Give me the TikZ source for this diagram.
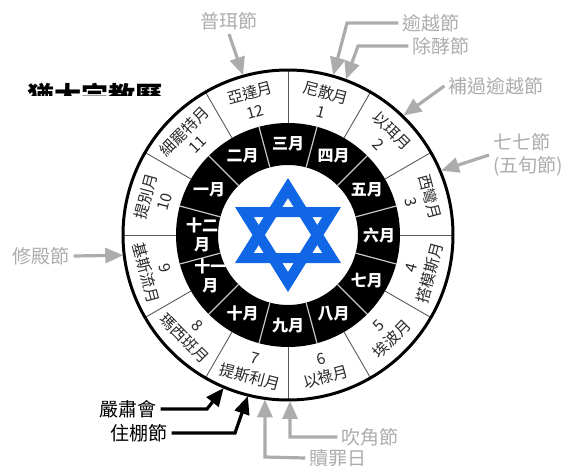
\documentclass[tikz,border=0pt]{standalone}
\usepackage{fontspec}
\setmainfont{Noto Sans CJK TC}
\usetikzlibrary{arrows.meta,calc}
\definecolor{lg}{RGB}{172,172,172}
\definecolor{starblue}{RGB}{16,102,228}
\definecolor{mtext}{RGB}{40,40,40}
\begin{document}
\begin{tikzpicture}[x=1pt,y=1pt,
  lbl/.style={text=lg,font=\fontsize{19}{23}\selectfont,inner sep=4pt},
  blbl/.style={text=black,font=\fontsize{19}{23}\selectfont,inner sep=4pt},
  garrow/.style={draw=lg,line width=3.2pt,-{Triangle[length=18pt,width=15pt]}},
  karrow/.style={draw=black,line width=3.2pt,-{Triangle[length=18pt,width=15pt]}},
  mname/.style={font=\fontsize{15.5}{19}\selectfont,text=mtext,inner sep=0pt,align=center},
  inm/.style={font=\bfseries\fontsize{16}{19}\selectfont,text=white,inner sep=0pt,align=center},
]
\useasboundingbox (0,0) rectangle (566,-466);

% clipped title
\begin{scope}
  \clip (0,-60) rectangle (220,-95);
  \node[anchor=base west,inner sep=0pt,font=\bfseries\fontsize{27}{28}\selectfont] (title) at (27,-106) {猶太宗教曆};
\end{scope}

% wheel
\begin{scope}[shift={(288,-235)}]
  \fill[black,even odd rule] (0,0) circle (112) (0,0) circle (70);
  \foreach \a in {0,30,...,330} \draw[black!65,line width=0.9pt] (\a:112) -- (\a:165);
  \foreach \a in {15,45,...,345} \draw[white!78!black,line width=1.2pt] (\a:70) -- (\a:112);
  \draw[line width=3pt] (0,0) circle (165);

  % outer ring months: name outward, number inward
  \foreach \a/\nm/\n/\r [count=\i] in {75/尼散月/1/-15, 45/以珥月/2/-45, 15/西彎月/3/-75,
      165/提別月/10/75, 135/細罷特月/11/45, 105/亞達月/12/15}
    \node[mname,rotate=\r] (mo\i) at (\a:138) {\nm\\\n};
  \foreach \a/\nm/\n/\r [count=\i] in {-15/搭模斯月/4/75, -45/埃波月/5/45, -75/以祿月/6/15,
      -105/提斯利月/7/-15, -135/瑪西班月/8/-45, -165/基斯流月/9/-75}
    \node[mname,rotate=\r] (mb\i) at (\a:138) {\n\\\nm};

  % inner ring
  \foreach \a/\t [count=\i] in {90/三月, 60/四月, 30/五月, 0/六月, -30/七月, -60/八月,
      -90/九月, -120/十月, 150/一月, 120/二月}
    \node[inm] (im\i) at (\a:91) {\t};
  \node[inm] (im11) at (-152:88) {十一\\月};
  \node[inm] (im12) at (180:86) {十二\\月};

  % star of David
  \fill[starblue,even odd rule] (0,57) -- (-53,-28) -- (53,-28) -- cycle
        (0,37) -- (-34.3,-18) -- (34.3,-18) -- cycle;
  \fill[starblue,even odd rule] (0,-57) -- (-53,28) -- (53,28) -- cycle
        (0,-37) -- (-34.3,18) -- (34.3,18) -- cycle;

  % arrow tips on the rim
  \coordinate (tPurim) at (105.7:166);
  \coordinate (tPesach) at (74.2:166);
  \coordinate (tMatzot) at (69.6:166);
  \coordinate (tSheni) at (46:166);
  \coordinate (tShavuot) at (22.8:166);
  \coordinate (tHanukkah) at (187:166);
  \coordinate (tShemini) at (247.2:166);
  \coordinate (tSukkot) at (256:166);
  \coordinate (tKippur) at (262:166);
  \coordinate (tRosh) at (270.7:166);
\end{scope}

% labels
\node[lbl] (purim) at (229,-21) {普珥節};
\node[lbl] (pesach) at (431,-23) {逾越節};
\node[lbl] (matzot) at (441,-46) {除酵節};
\node[lbl] (sheni) at (496,-86) {補過逾越節};
\node[lbl,align=left,anchor=west] (shavuot) at (489,-155) {七七節\\(五旬節)};
\node[lbl] (hanukkah) at (41,-256) {修殿節};
\node[blbl] (shemini) at (128,-409) {嚴肅會};
\node[blbl] (sukkot) at (139,-433) {住棚節};
\node[lbl] (rosh) at (370,-437) {吹角節};
\node[lbl] (kippur) at (338,-458) {贖罪日};

% corners
\coordinate (cPesach) at (347,-23);
\coordinate (cMatzot) at (358,-46);
\coordinate (cShemini) at (207,-409);
\coordinate (cSukkot) at (235,-433);
\coordinate (cRosh) at (290,-437);
\coordinate (cKippur) at (265,-457);

% connectors
\draw[garrow] (purim.south) -- (tPurim);
\draw[garrow] (pesach.west) -- (cPesach) -- (tPesach);
\draw[garrow] (matzot.west) -- (cMatzot) -- (tMatzot);
\draw[garrow] (sheni.west) -- (tSheni);
\draw[garrow] (shavuot.west) -- (tShavuot);
\draw[garrow] (hanukkah.east) -- (tHanukkah);
\draw[karrow] (shemini.east) -- (cShemini) -- (tShemini);
\draw[karrow] (sukkot.east) -- (cSukkot) -- (tSukkot);
\draw[garrow] (rosh.west) -- (cRosh) -- (tRosh);
\draw[garrow] (kippur.west) -- (cKippur) -- (tKippur);
\end{tikzpicture}
\end{document}
